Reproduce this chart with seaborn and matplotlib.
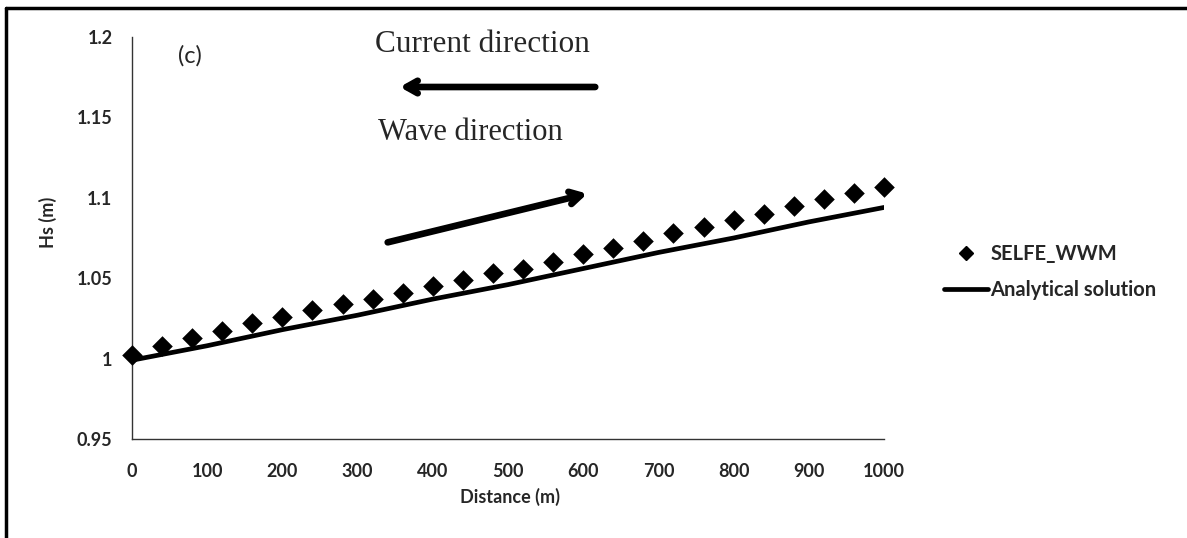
import numpy as np
import pandas as pd
import matplotlib.pyplot as plt
import seaborn as sns
from matplotlib.lines import Line2D

## data ##

# SELFE_WWM model output, every 40 m
dist_model = [0, 40, 80, 120, 160, 200, 240, 280, 320, 360, 400, 440, 480,
              520, 560, 600, 640, 680, 720, 760, 800, 840, 880, 920, 960, 1000]
hs_model = [1.002, 1.008, 1.013, 1.017, 1.022, 1.026, 1.030, 1.034, 1.037,
            1.041, 1.045, 1.049, 1.053, 1.056, 1.060, 1.065, 1.069, 1.073,
            1.078, 1.082, 1.086, 1.090, 1.095, 1.099, 1.103, 1.107]

# analytical solution
dist_exact = [0, 100, 200, 300, 400, 500, 600, 700, 800, 900, 1000]
hs_exact = [0.999, 1.008, 1.018, 1.027, 1.037, 1.046, 1.056, 1.066, 1.075,
            1.085, 1.094]

x_ticks = [0, 100, 200, 300, 400, 500, 600, 700, 800, 900, 1000]
y_ticks = [0.95, 1.0, 1.05, 1.1, 1.15, 1.2]
y_tick_labels = ['0.95', '1', '1.05', '1.1', '1.15', '1.2']

model_df = pd.DataFrame({'dist': dist_model, 'hs': hs_model})
exact_df = pd.DataFrame({'dist': dist_exact, 'hs': hs_exact})

## plot ##

sns.set_style('white')
plt.rcParams['font.family'] = ['Lato', 'DejaVu Sans']

W, H = 1187, 538
fig = plt.figure(figsize=(W / 100, H / 100), dpi=100)
# plot area: x 132..884 px, y 37..439 px
ax = fig.add_axes([132 / W, 1 - 439 / H, 752 / W, 402 / H])

sns.lineplot(data=exact_df, x='dist', y='hs', color='black', linewidth=3.4, ax=ax)
sns.scatterplot(data=model_df, x='dist', y='hs', marker='D', s=110, color='black',
                edgecolor='black', linewidth=0, ax=ax, zorder=3, clip_on=False)

ax.set_xlim(0, 1000)
ax.set_ylim(0.95, 1.2)
ax.set_xticks(x_ticks)
ax.set_xticklabels([str(t) for t in x_ticks], fontsize=13, fontweight='bold')
ax.set_yticks(y_ticks)
ax.set_yticklabels(y_tick_labels, fontsize=13, fontweight='bold')
ax.tick_params(axis='x', length=0, pad=17)
ax.tick_params(axis='y', length=0, pad=14)
ax.set_xlabel('Distance (m)', fontsize=13, fontweight='bold')
ax.xaxis.set_label_coords(510 / W, 1 - 488 / H, transform=fig.transFigure)
ax.set_ylabel('Hs (m)', fontsize=13, fontweight='bold')
ax.yaxis.set_label_coords(57 / W, 1 - 222 / H, transform=fig.transFigure)

for side in ['top', 'right']:
    ax.spines[side].set_visible(False)
for side in ['left', 'bottom']:
    ax.spines[side].set_color('#333333')
    ax.spines[side].set_linewidth(1.0)

# legend, model first
handles = [Line2D([], [], marker='D', color='black', linestyle='none', markersize=7.5),
           Line2D([], [], color='black', linewidth=3.4)]
ax.legend(handles, ['SELFE_WWM', 'Analytical solution'], loc='center left',
          bbox_to_anchor=(926 / W, 1 - 272 / H), bbox_transform=fig.transFigure,
          frameon=False, prop={'size': 14.5, 'weight': 'bold'},
          handlelength=2.2, handletextpad=0.1, labelspacing=0.75,
          borderpad=0.4)

# labels and arrows
ax.text(190 / W, 1 - 56 / H, '(c)', transform=fig.transFigure,
        fontsize=17, ha='center', va='center')
ax.text(375 / W, 1 - 44 / H, 'Current direction', transform=fig.transFigure,
        fontsize=22.5, ha='left', va='center', family='Liberation Serif')
ax.text(378 / W, 1 - 133 / H, 'Wave direction', transform=fig.transFigure,
        fontsize=22, ha='left', va='center', family='Liberation Serif')
ax.annotate('', xy=(397 / W, 1 - 87 / H), xytext=(598 / W, 1 - 87 / H),
            xycoords='figure fraction',
            arrowprops=dict(arrowstyle='->,head_length=0.8,head_width=0.45',
                            lw=4.8, color='black', capstyle='round'))
ax.annotate('', xy=(590 / W, 1 - 193 / H), xytext=(385 / W, 1 - 243 / H),
            xycoords='figure fraction',
            arrowprops=dict(arrowstyle='->,head_length=0.8,head_width=0.45',
                            lw=4.8, color='black', capstyle='round'))

# frame around figure (top and left edges only in the scan)
fig.add_artist(Line2D([6 / W, 1.0], [1 - 8 / H, 1 - 8 / H], color='black',
                      linewidth=2.5, transform=fig.transFigure))
fig.add_artist(Line2D([6 / W, 6 / W], [0.0, 1 - 8 / H], color='black',
                      linewidth=2.5, transform=fig.transFigure))

fig.savefig('out.png', dpi=100)
